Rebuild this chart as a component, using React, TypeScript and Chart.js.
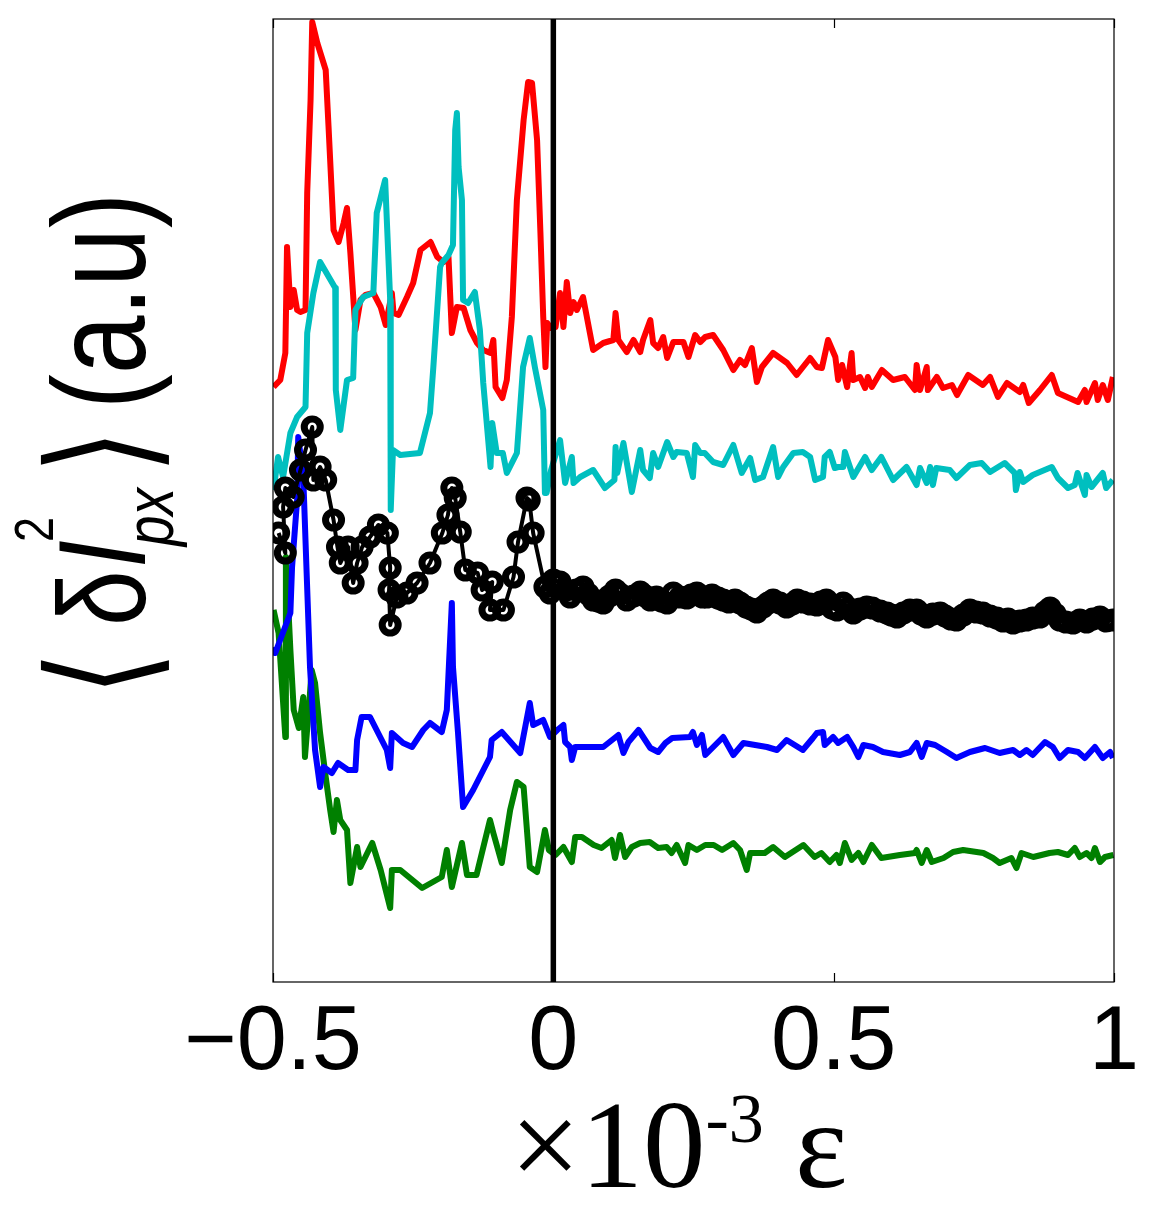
import React, { useEffect, useRef } from "react";
import { Chart, registerables } from "chart.js";
Chart.register(...registerables);

// x in units of 1e-3 strain, y in arbitrary units
const xMin = -0.5;
const xMax = 1;
const xStep = 0.5;
const yMin = -2;
const yMax = 961;
const innerTickValues = [-0.5, 0, 0.5, 1];

const zeroLine: [number, number][] = [[0, -2], [0, 961]];

const redPts: [number, number][] = [
  [-0.499, 593], [-0.487, 600], [-0.478, 627], [-0.475, 733], [-0.469, 673], [-0.463, 690], [-0.457, 670], [-0.451, 668],
  [-0.442, 670], [-0.439, 787], [-0.433, 880], [-0.430, 958], [-0.421, 937], [-0.406, 910], [-0.401, 854], [-0.392, 750],
  [-0.383, 738], [-0.374, 757], [-0.368, 772], [-0.362, 727], [-0.353, 650], [-0.344, 680], [-0.335, 685], [-0.321, 687],
  [-0.308, 673], [-0.299, 655], [-0.288, 687], [-0.285, 667], [-0.276, 665], [-0.261, 683], [-0.250, 697], [-0.237, 730],
  [-0.219, 738], [-0.207, 723], [-0.196, 718], [-0.187, 723], [-0.181, 647], [-0.172, 673], [-0.160, 672], [-0.148, 650],
  [-0.136, 637], [-0.125, 630], [-0.112, 627], [-0.107, 640], [-0.103, 593], [-0.091, 582], [-0.083, 600], [-0.074, 663],
  [-0.065, 780], [-0.053, 860], [-0.045, 898], [-0.038, 897], [-0.029, 840], [-0.023, 747], [-0.018, 663], [-0.014, 613],
  [-0.011, 657], [-0.005, 652], [0.004, 653], [0.012, 687], [0.018, 653], [0.024, 698], [0.030, 667], [0.036, 678],
  [0.042, 670], [0.053, 683], [0.071, 630], [0.089, 637], [0.107, 640], [0.111, 667], [0.116, 640], [0.131, 628],
  [0.143, 640], [0.155, 628], [0.160, 640], [0.173, 660], [0.178, 637], [0.187, 632], [0.196, 643], [0.203, 622],
  [0.214, 638], [0.232, 638], [0.241, 623], [0.253, 645], [0.262, 638], [0.271, 643], [0.285, 645], [0.303, 630],
  [0.321, 610], [0.333, 620], [0.342, 615], [0.354, 632], [0.363, 598], [0.372, 613], [0.392, 627], [0.417, 617],
  [0.434, 605], [0.458, 622], [0.470, 613], [0.479, 612], [0.490, 640], [0.503, 623], [0.508, 600], [0.515, 615],
  [0.524, 593], [0.532, 627], [0.535, 600], [0.547, 603], [0.556, 592], [0.561, 603], [0.568, 593], [0.586, 610],
  [0.606, 600], [0.627, 603], [0.645, 590], [0.648, 615], [0.654, 590], [0.666, 613], [0.668, 590], [0.684, 603],
  [0.695, 592], [0.711, 595], [0.720, 585], [0.740, 605], [0.766, 595], [0.779, 603], [0.793, 583], [0.809, 597],
  [0.832, 588], [0.838, 595], [0.848, 577], [0.868, 590], [0.889, 605], [0.900, 587], [0.916, 583], [0.936, 578],
  [0.948, 590], [0.951, 578], [0.966, 597], [0.971, 580], [0.980, 595], [0.989, 580], [0.998, 603],
];

const cyanPts: [number, number][] = [
  [-0.499, 490], [-0.491, 523], [-0.482, 503], [-0.469, 547], [-0.457, 563], [-0.442, 573], [-0.439, 647], [-0.428, 687],
  [-0.416, 718], [-0.389, 692], [-0.388, 590], [-0.380, 550], [-0.368, 600], [-0.357, 602], [-0.353, 670], [-0.339, 683],
  [-0.321, 687], [-0.315, 767], [-0.300, 800], [-0.291, 680], [-0.290, 470], [-0.286, 530], [-0.273, 525], [-0.238, 527],
  [-0.220, 567], [-0.214, 613], [-0.202, 713], [-0.199, 717], [-0.187, 725], [-0.179, 735], [-0.175, 850], [-0.172, 867],
  [-0.169, 813], [-0.163, 780], [-0.161, 680], [-0.152, 677], [-0.140, 688], [-0.131, 650], [-0.125, 597], [-0.112, 513],
  [-0.109, 557], [-0.101, 527], [-0.090, 527], [-0.083, 507], [-0.065, 527], [-0.054, 613], [-0.042, 642], [-0.033, 613],
  [-0.018, 570], [-0.015, 487], [-0.012, 487], [-0.004, 510], [0.012, 540], [0.021, 497], [0.033, 523], [0.036, 497],
  [0.048, 503], [0.071, 510], [0.092, 492], [0.109, 500], [0.111, 533], [0.114, 507], [0.125, 537], [0.140, 488],
  [0.155, 530], [0.160, 510], [0.172, 502], [0.178, 527], [0.187, 513], [0.203, 538], [0.214, 523], [0.220, 528],
  [0.238, 527], [0.249, 503], [0.253, 535], [0.262, 527], [0.270, 527], [0.285, 518], [0.303, 515], [0.321, 535],
  [0.336, 507], [0.351, 522], [0.360, 500], [0.374, 503], [0.392, 533], [0.401, 503], [0.410, 513], [0.428, 527],
  [0.445, 528], [0.458, 523], [0.467, 500], [0.481, 503], [0.484, 523], [0.493, 528], [0.502, 512], [0.508, 513],
  [0.517, 513], [0.520, 528], [0.535, 503], [0.556, 523], [0.568, 510], [0.585, 523], [0.606, 500], [0.630, 513],
  [0.648, 495], [0.654, 512], [0.666, 497], [0.672, 513], [0.677, 495], [0.683, 512], [0.707, 510], [0.719, 502],
  [0.743, 515], [0.764, 517], [0.779, 508], [0.805, 517], [0.823, 507], [0.825, 490], [0.832, 508], [0.838, 498],
  [0.855, 505], [0.889, 513], [0.900, 502], [0.918, 492], [0.930, 495], [0.935, 507], [0.948, 485], [0.951, 505],
  [0.960, 493], [0.980, 507], [0.986, 492], [0.998, 500],
];

const blackPts: [number, number][] = [
  [-0.490, 447], [-0.478, 427], [-0.482, 473], [-0.478, 492], [-0.464, 483], [-0.451, 510], [-0.442, 530], [-0.430, 553],
  [-0.428, 500], [-0.416, 513], [-0.406, 500], [-0.392, 460], [-0.385, 433], [-0.380, 417], [-0.366, 433], [-0.357, 397],
  [-0.350, 417], [-0.341, 433], [-0.327, 443], [-0.312, 455], [-0.296, 447], [-0.291, 412], [-0.293, 390], [-0.291, 355],
  [-0.279, 383], [-0.261, 387], [-0.243, 397], [-0.220, 417], [-0.198, 447], [-0.188, 465], [-0.181, 492], [-0.175, 482],
  [-0.166, 448], [-0.157, 410], [-0.135, 407], [-0.127, 390], [-0.109, 398], [-0.113, 370], [-0.089, 370], [-0.071, 403],
  [-0.063, 438], [-0.047, 482], [-0.043, 480], [-0.036, 447], [-0.015, 393], [-0.006, 387], [0.000, 400], [0.012, 398],
  [0.023, 390], [0.030, 383], [0.041, 390], [0.053, 393], [0.062, 386], [0.071, 380], [0.080, 379], [0.089, 377],
  [0.100, 384], [0.111, 390], [0.119, 386], [0.131, 380], [0.143, 384], [0.155, 388], [0.164, 384], [0.173, 380],
  [0.184, 383], [0.193, 379], [0.203, 377], [0.214, 387], [0.226, 383], [0.238, 382], [0.246, 385], [0.256, 387],
  [0.266, 383], [0.274, 383], [0.283, 385], [0.294, 382], [0.303, 380], [0.313, 378], [0.324, 380], [0.333, 377],
  [0.344, 373], [0.353, 371], [0.363, 368], [0.374, 373], [0.383, 377], [0.392, 380], [0.404, 377], [0.416, 373],
  [0.426, 376], [0.435, 380], [0.445, 378], [0.458, 376], [0.470, 375], [0.477, 378], [0.487, 380], [0.497, 372],
  [0.506, 370], [0.517, 377], [0.526, 372], [0.535, 367], [0.547, 371], [0.559, 373], [0.569, 372], [0.583, 369],
  [0.595, 367], [0.603, 365], [0.613, 363], [0.624, 367], [0.636, 370], [0.648, 370], [0.656, 366], [0.666, 363],
  [0.677, 366], [0.690, 367], [0.699, 364], [0.709, 361], [0.719, 360], [0.731, 365], [0.743, 370], [0.754, 368],
  [0.766, 367], [0.779, 364], [0.791, 362], [0.802, 359], [0.811, 361], [0.820, 357], [0.832, 359], [0.844, 360],
  [0.855, 362], [0.868, 363], [0.877, 368], [0.886, 372], [0.895, 366], [0.903, 360], [0.914, 358], [0.927, 357],
  [0.939, 360], [0.951, 358], [0.962, 361], [0.975, 363], [0.986, 359], [0.998, 360],
];

const bluePts: [number, number][] = [
  [-0.499, 333], [-0.496, 327], [-0.469, 367], [-0.466, 413], [-0.457, 480], [-0.455, 543], [-0.446, 503], [-0.440, 407],
  [-0.434, 313], [-0.425, 230], [-0.416, 193], [-0.410, 213], [-0.395, 207], [-0.384, 217], [-0.366, 210], [-0.353, 210],
  [-0.350, 240], [-0.342, 263], [-0.327, 263], [-0.297, 230], [-0.291, 212], [-0.288, 247], [-0.268, 237], [-0.252, 233],
  [-0.232, 250], [-0.220, 257], [-0.199, 248], [-0.190, 270], [-0.181, 377], [-0.179, 313], [-0.170, 247], [-0.161, 173],
  [-0.143, 190], [-0.113, 223], [-0.110, 240], [-0.092, 248], [-0.059, 227], [-0.042, 277], [-0.036, 255], [-0.018, 260],
  [-0.006, 243], [0.007, 250], [0.018, 255], [0.021, 238], [0.030, 233], [0.033, 220], [0.039, 233], [0.089, 233],
  [0.116, 245], [0.125, 227], [0.134, 238], [0.152, 250], [0.173, 232], [0.187, 228], [0.200, 237], [0.212, 242],
  [0.244, 243], [0.249, 248], [0.256, 235], [0.265, 245], [0.271, 225], [0.303, 243], [0.321, 225], [0.339, 237],
  [0.381, 233], [0.399, 230], [0.416, 240], [0.445, 230], [0.463, 242], [0.470, 247], [0.481, 248], [0.484, 235],
  [0.499, 243], [0.508, 237], [0.524, 243], [0.535, 233], [0.544, 223], [0.553, 235], [0.570, 233], [0.588, 228],
  [0.618, 225], [0.636, 228], [0.648, 237], [0.657, 223], [0.666, 237], [0.681, 235], [0.702, 228], [0.719, 222],
  [0.743, 228], [0.770, 232], [0.796, 227], [0.820, 230], [0.832, 225], [0.844, 230], [0.855, 225], [0.877, 238],
  [0.891, 233], [0.903, 222], [0.918, 230], [0.936, 228], [0.948, 222], [0.966, 233], [0.980, 222], [0.993, 228],
  [0.998, 222],
];

const greenPts: [number, number][] = [
  [-0.499, 370], [-0.490, 347], [-0.478, 243], [-0.477, 423], [-0.469, 330], [-0.463, 270], [-0.454, 252], [-0.446, 283],
  [-0.443, 223], [-0.434, 287], [-0.431, 310], [-0.425, 297], [-0.416, 247], [-0.406, 203], [-0.398, 170], [-0.392, 148],
  [-0.386, 180], [-0.380, 160], [-0.368, 150], [-0.362, 97], [-0.350, 133], [-0.344, 113], [-0.323, 137], [-0.308, 110],
  [-0.291, 72], [-0.288, 110], [-0.273, 110], [-0.234, 92], [-0.199, 103], [-0.190, 130], [-0.181, 93], [-0.163, 137],
  [-0.154, 105], [-0.137, 105], [-0.113, 160], [-0.107, 147], [-0.092, 117], [-0.077, 170], [-0.065, 198], [-0.053, 193],
  [-0.042, 113], [-0.029, 108], [-0.015, 150], [-0.008, 130], [0.004, 125], [0.018, 133], [0.033, 118], [0.039, 143],
  [0.051, 143], [0.072, 135], [0.086, 132], [0.104, 140], [0.110, 122], [0.119, 145], [0.128, 123], [0.140, 133],
  [0.155, 137], [0.172, 138], [0.187, 132], [0.202, 133], [0.211, 127], [0.220, 135], [0.235, 117], [0.241, 135],
  [0.256, 130], [0.271, 135], [0.286, 135], [0.301, 130], [0.321, 137], [0.333, 130], [0.345, 110], [0.351, 127],
  [0.377, 127], [0.392, 133], [0.413, 123], [0.446, 135], [0.466, 123], [0.478, 127], [0.493, 118], [0.505, 125],
  [0.511, 117], [0.520, 137], [0.532, 120], [0.544, 127], [0.553, 118], [0.568, 135], [0.585, 122], [0.618, 125],
  [0.645, 127], [0.648, 130], [0.657, 117], [0.666, 130], [0.675, 118], [0.696, 122], [0.713, 128], [0.731, 130],
  [0.767, 127], [0.784, 122], [0.796, 117], [0.817, 122], [0.826, 112], [0.835, 127], [0.856, 123], [0.885, 127],
  [0.900, 128], [0.918, 125], [0.930, 132], [0.939, 123], [0.951, 127], [0.960, 122], [0.966, 132], [0.975, 118],
  [0.984, 123], [0.999, 125],
];

const xTitleMain = "\u00d710";
const xTitleSup = "-3";
const xTitleEnd = " \u03b5";

const toXY = (a: [number, number][]) => a.map(([x, y]) => ({ x, y }));

const framePlugin = {
  id: "frame",
  afterDatasetsDraw(chart: any) {
    const { ctx, chartArea } = chart;
    const xs = chart.scales.x;
    ctx.save();
    ctx.strokeStyle = "#000";
    ctx.lineWidth = 1.2;
    ctx.strokeRect(chartArea.left, chartArea.top, chartArea.right - chartArea.left, chartArea.bottom - chartArea.top);
    ctx.beginPath();
    for (const v of innerTickValues) {
      const px = Math.round(xs.getPixelForValue(v)) + 0.5;
      ctx.moveTo(px, chartArea.bottom);
      ctx.lineTo(px, chartArea.bottom - 9);
      ctx.moveTo(px, chartArea.top);
      ctx.lineTo(px, chartArea.top + 9);
    }
    ctx.stroke();
    ctx.restore();
  },
};

const titlesPlugin = {
  id: "titles",
  afterDraw(chart: any) {
    const { ctx } = chart;
    ctx.save();
    ctx.fillStyle = "#000";
    ctx.textBaseline = "alphabetic";
    ctx.textAlign = "left";
    // x title
    let x = 510;
    ctx.font = '125px "Liberation Serif", "Times New Roman", serif';
    ctx.fillText(xTitleMain, x, 1187);
    x += ctx.measureText(xTitleMain).width;
    ctx.font = '70px "Liberation Serif", "Times New Roman", serif';
    ctx.fillText(xTitleSup, x, 1142);
    x += ctx.measureText(xTitleSup).width;
    ctx.font = '125px "Liberation Serif", "Times New Roman", serif';
    ctx.fillText(xTitleEnd, x, 1187);

    // y title (rotated)
    ctx.translate(145, 692);
    ctx.rotate(-Math.PI / 2);
    ctx.scale(1, 1.25);
    const sans = '"Liberation Sans", Arial, sans-serif';
    ctx.font = '115px "DejaVu Sans", sans-serif';
    ctx.fillText("\u27e8", -4, 4);
    ctx.font = "100px " + sans;
    ctx.fillText("\u03b4", 66, 0);
    ctx.font = "italic 100px " + sans;
    ctx.fillText("I", 124, 0);
    ctx.font = "45px " + sans;
    ctx.fillText("2", 150, -74);
    ctx.font = "italic 55px " + sans;
    ctx.fillText("px", 146, 22);
    ctx.font = '115px "DejaVu Sans", sans-serif';
    ctx.fillText("\u27e9", 218, 4);
    ctx.font = "105px " + sans;
    ctx.fillText("(a.u)", 283, 0);
    ctx.restore();
  },
};

export default function App() {
  const ref = useRef<HTMLCanvasElement>(null);
  useEffect(() => {
    const line = (data: [number, number][], color: string) => ({
      data: toXY(data),
      borderColor: color,
      borderWidth: 6,
      pointRadius: 0,
      borderJoinStyle: "round" as const,
      tension: 0,
    });
    const chart = new Chart(ref.current!, {
      type: "line",
      data: {
        datasets: [
          { label: "zero", data: toXY(zeroLine), borderColor: "#000", borderWidth: 5.5, pointRadius: 0 },
          {
            label: "black",
            data: toXY(blackPts),
            borderColor: "#000",
            borderWidth: 4,
            pointRadius: 8,
            pointBorderWidth: 7,
            pointBorderColor: "#000",
            pointBackgroundColor: "rgba(0,0,0,0)",
            borderJoinStyle: "round",
          },
          { label: "cyan", ...line(cyanPts, "#00BFBF") },
          { label: "red", ...line(redPts, "#FF0000") },
          { label: "blue", ...line(bluePts, "#0000FF") },
          { label: "green", ...line(greenPts, "#008000") },
        ],
      },
      options: {
        responsive: false,
        animation: false,
        devicePixelRatio: 1,
        layout: { padding: { left: 273, top: 19, right: 37, bottom: 0 } },
        plugins: { legend: { display: false }, tooltip: { enabled: false } },
        scales: {
          x: {
            type: "linear",
            min: xMin,
            max: xMax,
            grid: { display: false, drawTicks: false },
            border: { display: false },
            ticks: {
              stepSize: xStep,
              maxRotation: 0,
              autoSkip: false,
              padding: 17,
              color: "#000",
              font: { family: '"Liberation Sans", Arial, sans-serif', size: 90, lineHeight: 1 },
              callback: (v: any) => String(v).replace("-", "\u2212"),
            },
            afterFit: (s: any) => {
              s.height = 240;
              s.paddingLeft = 0;
              s.paddingRight = 0;
            },
          },
          y: { type: "linear", min: yMin, max: yMax, display: false },
        },
      },
      plugins: [framePlugin, titlesPlugin],
    });
    return () => chart.destroy();
  }, []);
  return (
    <div style={{ position: "absolute", left: 0, top: 0, width: 1151, height: 1222, background: "#fff" }}>
      <canvas ref={ref} width={1151} height={1222} style={{ display: "block" }} />
    </div>
  );
}
